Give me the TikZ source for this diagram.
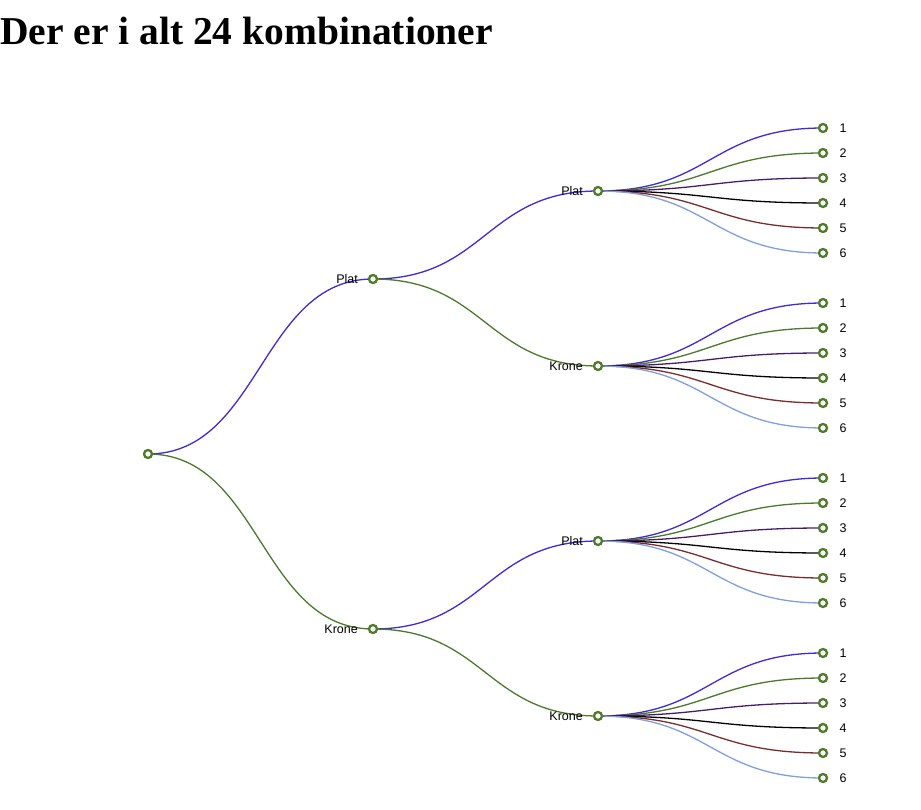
\documentclass[tikz,border=0pt]{standalone}
\usepackage{fontspec}
\setmainfont{Liberation Serif}
\setsansfont{Liberation Sans}
\usetikzlibrary{calc}
\pgfdeclarelayer{bg}
\pgfsetlayers{bg,main}
\definecolor{cblue}{RGB}{66,42,214}
\definecolor{cgreen}{RGB}{76,122,44}
\definecolor{cpurple}{RGB}{72,28,108}
\definecolor{cblack}{RGB}{0,0,0}
\definecolor{cred}{RGB}{122,44,44}
\definecolor{clight}{RGB}{128,158,224}
\definecolor{cnode}{RGB}{78,124,42}
\tikzset{
  dot/.style={circle,draw=cnode,fill=white,line width=2.3pt,inner sep=0pt,minimum size=8pt},
  lnkstyle/.style={line width=1.3pt},
  lbl/.style={font=\sffamily\fontsize{12.5}{14}\selectfont,inner sep=0pt},
}
\newcommand\mylink[3]{\draw[lnkstyle,#3] let \p1=(#1.center),\p2=(#2.center) in (\p1) .. controls ({(\x1+\x2)/2},\y1) and ({(\x1+\x2)/2},\y2) .. (\p2);}
\begin{document}
\begin{tikzpicture}[x=1pt,y=-1pt]
\useasboundingbox (0,0) rectangle (921,810);
\node[anchor=base west,inner sep=0pt,font=\bfseries\fontsize{39.5}{44}\selectfont] (title) at (0,44.5) {Der er i alt 24 kombinationer};
% nodes
\node[dot] (r) at (148,454) {};
\node[dot] (a) at (373,279) {};
\node[dot] (b) at (373,629) {};
\node[dot] (aa) at (598,191) {};
\node[dot] (ab) at (598,366) {};
\node[dot] (ba) at (598,541) {};
\node[dot] (bb) at (598,716) {};
\node[lbl,anchor=east] (la) at (358,279) {Plat};
\node[lbl,anchor=east] (lb) at (358,629) {Krone};
\node[lbl,anchor=east] (laa) at (583,191) {Plat};
\node[lbl,anchor=east] (lab) at (583,366) {Krone};
\node[lbl,anchor=east] (lba) at (583,541) {Plat};
\node[lbl,anchor=east] (lbb) at (583,716) {Krone};
\foreach \q/\yy in {aa/128,ab/303,ba/478,bb/653}{
  \foreach \i/\cc in {1/cblue,2/cgreen,3/cpurple,4/cblack,5/cred,6/clight}{
    \node[dot] (\q\i) at (823,{\yy+(\i-1)*25}) {};
    \node[lbl,anchor=west] (t\q\i) at (839.5,{\yy+(\i-1)*25}) {\i};
    \begin{pgfonlayer}{bg}
      \mylink{\q}{\q\i}{\cc}
    \end{pgfonlayer}
  }
}
\begin{pgfonlayer}{bg}
\mylink{r}{a}{cblue}
\mylink{r}{b}{cgreen}
\mylink{a}{aa}{cblue}
\mylink{a}{ab}{cgreen}
\mylink{b}{ba}{cblue}
\mylink{b}{bb}{cgreen}
\end{pgfonlayer}
\end{tikzpicture}
\end{document}
